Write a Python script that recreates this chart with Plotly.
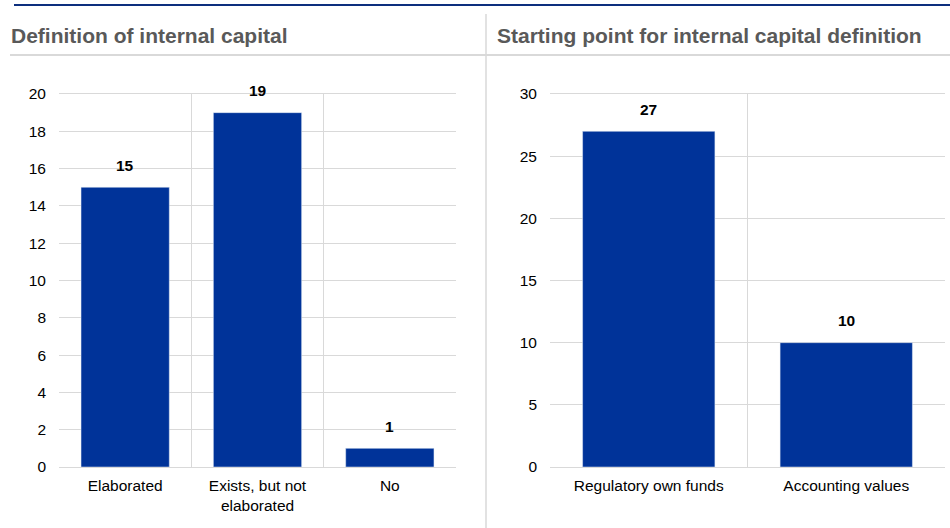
import plotly.graph_objects as go

# Panel 1: definition of internal capital
def_categories = ["Elaborated", "Exists, but not<br>elaborated", "No"]
def_values = [15, 19, 1]

# Panel 2: starting point for the internal capital definition
start_categories = ["Regulatory own funds", "Accounting values"]
start_values = [27, 10]

left_ticks = [0, 2, 4, 6, 8, 10, 12, 14, 16, 18, 20]
right_ticks = [0, 5, 10, 15, 20, 25, 30]

W, H = 950, 528
BAR = "#003399"
GRID = "#d9d9d9"
TITLE = "#595959"
FONT = "Liberation Sans, Arial, sans-serif"


def px(x):
    return x / W


def py(y):
    return 1 - y / H


fig = go.Figure()
fig.add_trace(go.Bar(x=def_categories, y=def_values, marker_color=BAR,
                     xaxis="x", yaxis="y", width=0.667, hoverinfo="x+y"))
fig.add_trace(go.Bar(x=start_categories, y=start_values, marker_color=BAR,
                     xaxis="x2", yaxis="y2", width=0.67, hoverinfo="x+y"))

annotations = []
for cats, vals, xr, yr in [(def_categories, def_values, "x", "y"),
                           (start_categories, start_values, "x2", "y2")]:
    for c, v in zip(cats, vals):
        annotations.append(dict(x=c, y=v, xref=xr, yref=yr, text=f"<b>{v}</b>",
                                showarrow=False, yshift=22,
                                font=dict(size=15.5, color="#000000", family=FONT)))

annotations += [
    dict(x=px(9), y=py(35), xref="paper", yref="paper", xanchor="left", yanchor="middle",
         text="<b>Definition of internal capital</b>", showarrow=False,
         font=dict(size=21, color=TITLE, family=FONT)),
    dict(x=px(495), y=py(35), xref="paper", yref="paper", xanchor="left", yanchor="middle",
         text="<b>Starting point for internal capital definition</b>", showarrow=False,
         font=dict(size=21, color=TITLE, family=FONT)),
]

shapes = [
    # navy rule along the top
    dict(type="line", xref="paper", yref="paper", x0=px(14), x1=1, y0=py(5), y1=py(5),
         line=dict(color="#0d2f7e", width=2)),
    # grey rule under the titles
    dict(type="line", xref="paper", yref="paper", x0=px(10), x1=1, y0=py(55), y1=py(55),
         line=dict(color=GRID, width=2)),
    # vertical divider between panels
    dict(type="line", xref="paper", yref="paper", x0=px(486), x1=px(486), y0=py(14), y1=0,
         line=dict(color=GRID, width=1.5)),
]

axis_font = dict(size=15.5, color="#000000", family=FONT)

xcommon = dict(type="category", tickson="boundaries", showgrid=True, gridcolor=GRID,
               gridwidth=1, ticks="", showline=True, linecolor=GRID, linewidth=1,
               mirror=True, tickfont=axis_font, fixedrange=True, zeroline=False,
               ticklabelstandoff=4, automargin=False)
ycommon = dict(showgrid=True, gridcolor=GRID, gridwidth=1, ticks="", showline=False,
               zeroline=False, tickfont=axis_font, ticklabelstandoff=12, fixedrange=True,
               automargin=False)

fig.update_layout(
    width=W, height=H,
    margin=dict(l=0, r=0, t=0, b=0, pad=0),
    paper_bgcolor="white", plot_bgcolor="white",
    showlegend=False,
    bargap=0.33,
    font=dict(family=FONT, color="#000000"),
    xaxis=dict(domain=[px(59), px(456)], anchor="y", range=[-0.5, 2.5], **xcommon),
    yaxis=dict(domain=[py(467), py(94)], anchor="x", range=[0, 20],
               tickvals=left_ticks, **ycommon),
    xaxis2=dict(domain=[px(550), px(945)], anchor="y2", range=[-0.5, 1.5], **xcommon),
    yaxis2=dict(domain=[py(467), py(94)], anchor="x2", range=[0, 30],
                tickvals=right_ticks, **ycommon),
    annotations=annotations,
    shapes=shapes,
)

fig.write_html("out.html")
